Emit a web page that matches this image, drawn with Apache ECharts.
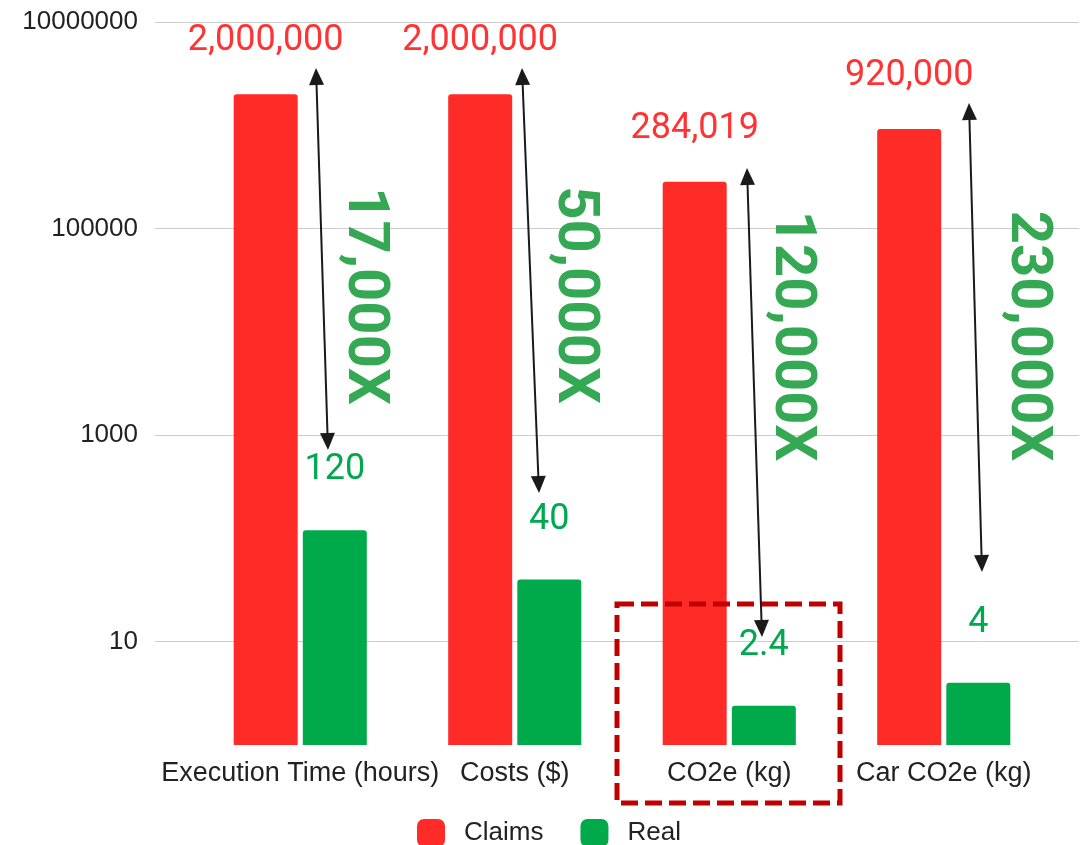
<!DOCTYPE html>
<html>
<head>
<meta charset="utf-8">
<script src="https://cdn.jsdelivr.net/npm/echarts@6/dist/echarts.min.js"></script>
<style>
  html, body { margin: 0; padding: 0; background: #ffffff; }
  #chart { width: 1089px; height: 845px; }
</style>
</head>
<body>
<div id="chart"></div>
<script>
// ---- data ----
const categories = ['Execution Time (hours)', 'Costs ($)', 'CO2e (kg)', 'Car CO2e (kg)'];
const claims = [2000000, 2000000, 284019, 920000];
const real = [120, 40, 2.4, 4];
const ratioLabels = ['17,000X', '50,000X', '120,000X', '230,000X'];
const seriesNames = ['Claims', 'Real'];

// ---- styling ----
const RED = '#ff2b26';
const GREEN = '#00a94a';
const RED_TEXT = '#ff3333';
const GREEN_TEXT = '#00a94f';
const RATIO_GREEN = '#34a853';
const SANS = '"Liberation Sans", Arial, sans-serif';
const LABEL_FONT = 'Roboto, "Liberation Sans", sans-serif';

// hand-placed annotations: double-headed arrows and rotated ratio text
const arrows = [
  [[316, 68], [328, 450]],
  [[522, 68], [539, 493]],
  [[747, 168], [762, 637]],
  [[969, 103], [982, 572]]
];
const ratioCenters = [[363, 296], [573, 295], [790, 336], [1026, 336]];
const highlightBox = { x: 617, y: 604, width: 223, height: 199 };

function arrowGraphics(p1, p2) {
  const head = 17, half = 7.5;
  const dx = p2[0] - p1[0], dy = p2[1] - p1[1];
  const len = Math.sqrt(dx * dx + dy * dy);
  const ux = dx / len, uy = dy / len;
  const nx = -uy, ny = ux;
  const a = [p1[0] + ux * head, p1[1] + uy * head];
  const b = [p2[0] - ux * head, p2[1] - uy * head];
  const stroke = '#1a1a1a';
  return [
    { type: 'line', z: 20, shape: { x1: a[0], y1: a[1], x2: b[0], y2: b[1] },
      style: { stroke: stroke, lineWidth: 2 } },
    { type: 'polygon', z: 20, shape: { points: [p1,
        [a[0] + nx * half, a[1] + ny * half], [a[0] - nx * half, a[1] - ny * half]] },
      style: { fill: stroke } },
    { type: 'polygon', z: 20, shape: { points: [p2,
        [b[0] + nx * half, b[1] + ny * half], [b[0] - nx * half, b[1] - ny * half]] },
      style: { fill: stroke } }
  ];
}

const graphics = [
  { type: 'rect', z: 15, shape: highlightBox,
    style: { fill: 'none', stroke: '#c00000', lineWidth: 5, lineDash: [17, 7] } }
];
arrows.forEach(a => graphics.push.apply(graphics, arrowGraphics(a[0], a[1])));
ratioLabels.forEach((t, i) => graphics.push({
  type: 'text', z: 18, x: ratioCenters[i][0], y: ratioCenters[i][1], rotation: -Math.PI / 2,
  style: { text: t, fill: RATIO_GREEN, font: 'bold 58px Roboto, sans-serif',
           align: 'center', verticalAlign: 'middle' }
}));

const chart = echarts.init(document.getElementById('chart'), null, { renderer: 'canvas' });

const option = {
  backgroundColor: '#ffffff',
  animation: false,
  legend: {
    data: seriesNames,
    left: 412,
    top: 814,
    icon: 'roundRect',
    itemWidth: 28,
    itemHeight: 28,
    itemGap: 37,
    textStyle: { fontSize: 26, color: '#222222', fontFamily: SANS, padding: [0, 0, 0, 14] }
  },
  grid: [
    // axis/gridline frame
    { left: 155, right: 10, top: 22, bottom: 100, containLabel: false },
    // bar area
    { left: 193, right: 38, top: 22, bottom: 100, containLabel: false }
  ],
  xAxis: [
    { gridIndex: 0, type: 'value', min: 0, max: 1, show: false },
    {
      gridIndex: 1, type: 'category', data: categories,
      axisLine: { show: false }, axisTick: { show: false },
      axisLabel: { color: '#222222', fontSize: 27, fontFamily: SANS, margin: 15, interval: 0 }
    }
  ],
  yAxis: [
    {
      gridIndex: 0, type: 'log', logBase: 10, min: 1, max: 10000000,
      axisLine: { show: false }, axisTick: { show: false },
      axisLabel: {
        color: '#222222', fontSize: 26, fontFamily: SANS, margin: 17,
        formatter: function (v) {
          const e = Math.round(Math.log10(v));
          return e % 2 === 1 ? String(Math.round(Math.pow(10, e))) : '';
        }
      },
      splitLine: { show: true, lineStyle: { color: ['rgba(0,0,0,0)', '#cccccc'], width: 1 } }
    },
    {
      gridIndex: 1, type: 'log', logBase: 10, min: 1, max: 10000000, show: false,
      splitLine: { show: false }
    }
  ],
  series: [
    {
      name: seriesNames[0], type: 'bar', xAxisIndex: 1, yAxisIndex: 1,
      data: claims, barWidth: 64, barGap: '8%',
      itemStyle: { color: RED, borderRadius: [3, 3, 0, 0] },
      label: {
        show: true, position: 'top', distance: 35, color: RED_TEXT,
        fontFamily: LABEL_FONT, fontSize: 36,
        formatter: p => p.value.toLocaleString('en-US')
      }
    },
    {
      name: seriesNames[1], type: 'bar', xAxisIndex: 1, yAxisIndex: 1,
      data: real, barWidth: 64, barGap: '8%',
      itemStyle: { color: GREEN, borderRadius: [3, 3, 0, 0] },
      label: {
        show: true, position: 'top', distance: 42, color: GREEN_TEXT,
        fontFamily: LABEL_FONT, fontSize: 36,
        formatter: p => String(p.value)
      }
    }
  ],
  graphic: graphics
};

chart.setOption(option);
</script>
</body>
</html>
